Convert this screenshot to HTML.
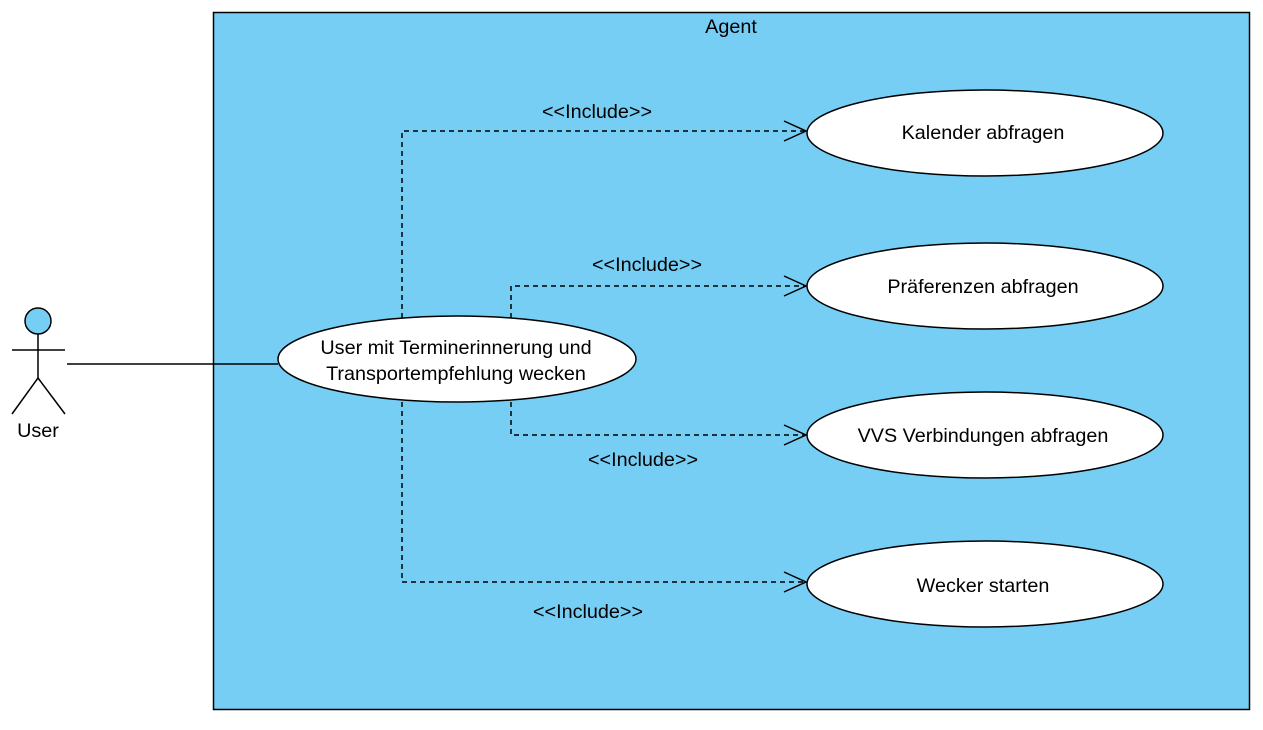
<!DOCTYPE html>
<html><head><meta charset="utf-8"><style>body{margin:0;background:#fff}</style></head><body>
<svg width="1263" height="725" xmlns="http://www.w3.org/2000/svg" font-family="Liberation Sans, Arial, sans-serif" font-size="19.8">
<rect x="213.5" y="12.5" width="1036" height="697" fill="#77cef4" stroke="#000" stroke-width="1.5"/>
<text x="731" y="33" text-anchor="middle">Agent</text>
<circle cx="38" cy="321" r="13" fill="#77cef4" stroke="#000" stroke-width="1.5"/>
<g stroke="#000" stroke-width="1.5" fill="none">
<line x1="38" y1="334" x2="38" y2="378"/><line x1="12" y1="350" x2="65" y2="350"/>
<line x1="38" y1="378" x2="12" y2="414"/><line x1="38" y1="378" x2="65" y2="414"/>
<line x1="67" y1="364" x2="278" y2="364"/>
<g stroke-dasharray="5,4">
<polyline points="402,318 402,131 804,131"/>
<polyline points="511,318 511,286 804,286"/>
<polyline points="511,402 511,435 804,435"/>
<polyline points="402,402 402,582 804,582"/>
</g>
<polyline points="784,121 806,131 784,141"/>
<polyline points="784,276 806,286 784,296"/>
<polyline points="784,425 806,435 784,445"/>
<polyline points="784,572 806,582 784,592"/>
</g>
<text x="38" y="437" text-anchor="middle">User</text>
<g fill="#fff" stroke="#000" stroke-width="1.5">
<ellipse cx="457" cy="359" rx="179" ry="43"/>
<ellipse cx="985" cy="133" rx="178" ry="43"/>
<ellipse cx="985" cy="286" rx="178" ry="43"/>
<ellipse cx="985" cy="435" rx="178" ry="43"/>
<ellipse cx="985" cy="584" rx="178" ry="43"/>
</g>
<g text-anchor="middle">
<text x="456" y="354">User mit Terminerinnerung und</text>
<text x="456" y="380">Transportempfehlung wecken</text>
<text x="983" y="139">Kalender abfragen</text>
<text x="983" y="293">Präferenzen abfragen</text>
<text x="983" y="442">VVS Verbindungen abfragen</text>
<text x="983" y="592">Wecker starten</text>
<text x="597" y="118">&lt;&lt;Include&gt;&gt;</text>
<text x="647" y="271">&lt;&lt;Include&gt;&gt;</text>
<text x="643" y="466">&lt;&lt;Include&gt;&gt;</text>
<text x="588" y="618">&lt;&lt;Include&gt;&gt;</text>
</g>
</svg>
</body></html>
